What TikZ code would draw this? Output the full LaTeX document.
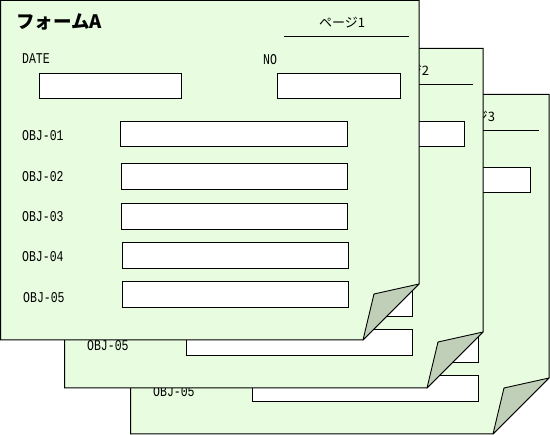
\documentclass[tikz,border=0pt]{standalone}
\usepackage{fontspec}
\newfontfamily\jpfont{Noto Sans CJK JP}
\newfontfamily\monofont{Liberation Mono}
\definecolor{pagefill}{HTML}{E8FCE0}
\definecolor{flapfill}{HTML}{C0D0B8}
\newcommand\tallmono[1]{\scalebox{1}[1.3]{#1}}
\tikzset{
  pageshape/.style={draw=black, fill=pagefill, line width=1pt, line join=miter},
  flapshape/.style={draw=black, fill=flapfill, line width=0.9pt, line join=round},
  fieldbox/.style={draw=black, fill=white, line width=1pt},
  rule/.style={draw=black, line width=1pt},
  lbl/.style={font=\monofont\fontsize{11.5}{12}\selectfont, anchor=west, inner sep=0pt},
  formtitle/.style={font=\jpfont\bfseries\fontsize{18.5}{20}\selectfont, anchor=west, inner sep=0pt},
  pagelbl/.style={font=\jpfont\fontsize{13}{14}\selectfont, anchor=center, inner sep=0pt},
}
\newcommand\formpage[4]{%
  \begin{scope}[shift={(#3,#4)}]
    \draw[pageshape] (0.5,0.5) -- (419,0.5) -- (419,284) -- (363,340) -- (0.5,340) -- cycle;
    \draw[flapshape] (419,284) -- (374,294) -- (363,340) -- cycle;
    \node[formtitle] (#1-title) at (16,22) {フォームA};
    \node[pagelbl] (#1-page) at (342,22.5) {ページ#2};
    \draw[rule] (284,37) -- (409,37);
    \node[lbl] (#1-date) at (22,59) {\tallmono{DATE}};
    \node[lbl] (#1-no) at (263,60) {\tallmono{NO}};
    \draw[fieldbox] (39,74) rectangle (181,99);
    \draw[fieldbox] (277,74) rectangle (400,99);
    \node[lbl] (#1-o1) at (22,136) {\tallmono{OBJ-01}};
    \draw[fieldbox] (120,122) rectangle (347,147);
    \node[lbl] (#1-o2) at (22,177) {\tallmono{OBJ-02}};
    \draw[fieldbox] (121,164) rectangle (347,190);
    \node[lbl] (#1-o3) at (22,217) {\tallmono{OBJ-03}};
    \draw[fieldbox] (121,204) rectangle (347,230);
    \node[lbl] (#1-o4) at (22,257) {\tallmono{OBJ-04}};
    \draw[fieldbox] (122,243) rectangle (348,269);
    \node[lbl] (#1-o5) at (23,298) {\tallmono{OBJ-05}};
    \draw[fieldbox] (122,282) rectangle (348,308);
  \end{scope}}
\begin{document}
\begin{tikzpicture}[x=1pt,y=-1pt]
  \useasboundingbox (0,0) rectangle (550,435);
  \formpage{p3}{3}{130}{94}
  \formpage{p2}{2}{64}{48}
  \formpage{p1}{1}{0}{0}
\end{tikzpicture}
\end{document}
